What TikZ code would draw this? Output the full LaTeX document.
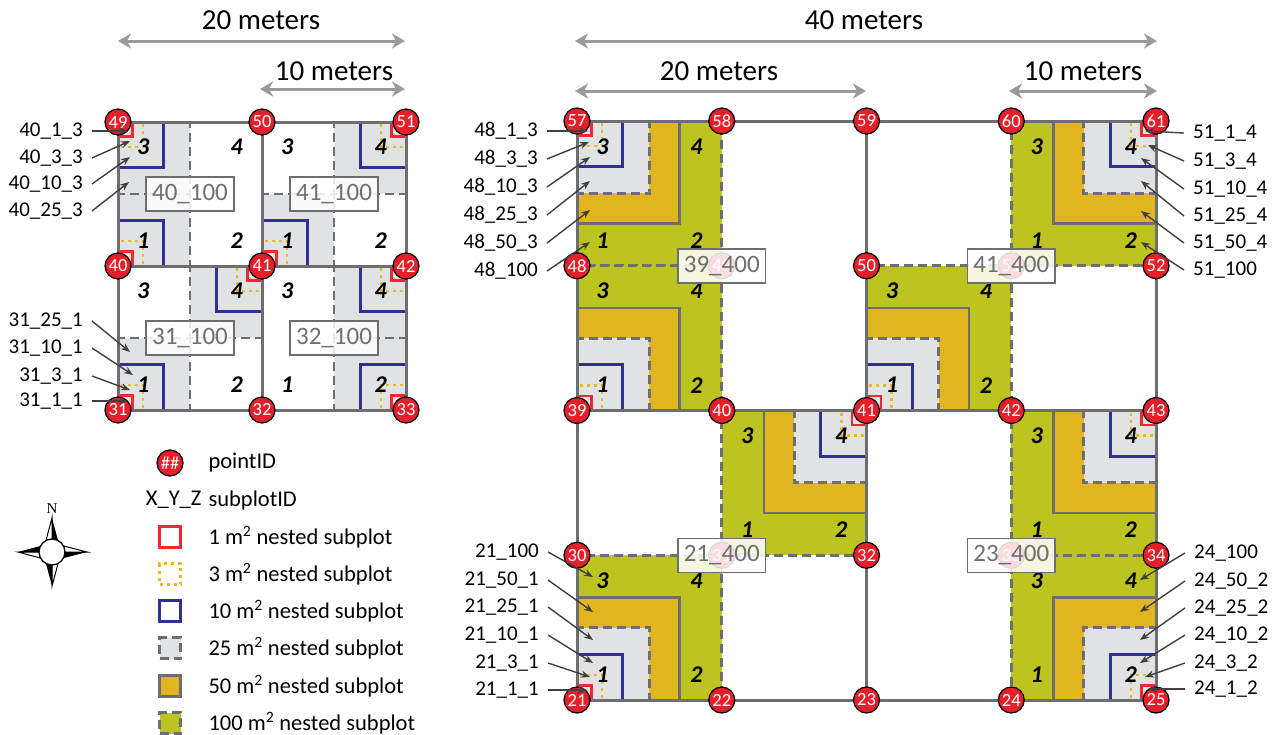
\documentclass[tikz,border=0pt]{standalone}
\usepackage{fontspec}
\setmainfont{Carlito}
\newfontfamily\serifN{Liberation Serif}
\usetikzlibrary{arrows.meta}
\definecolor{ptred}{HTML}{E5202A}
\definecolor{grn}{HTML}{BDC31F}
\definecolor{ylw}{HTML}{E1B520}
\definecolor{lgray}{HTML}{E1E2E4}
\definecolor{nblue}{HTML}{2E3192}
\definecolor{dotylw}{HTML}{EAB81E}
\definecolor{lgrid}{HTML}{6D6E71}
\definecolor{dimgray}{HTML}{9A9A9A}
\definecolor{idtext}{HTML}{6F6F6F}
\definecolor{sqred}{HTML}{EE2A30}
\newcommand\nestset[5]{%
  \ifnum#5=1\relax \draw[q50] (#1,#2) rectangle ++(#3*7.071,#4*7.071);\fi
  \draw[q25] (#1,#2) rectangle ++(#3*5,#4*5);
  \draw[q10] (#1,#2) rectangle ++(#3*3.162,#4*3.162);
  \draw[q3] (#1,#2) rectangle ++(#3*1.732,#4*1.732);
  \draw[q1] (#1,#2) rectangle ++(#3*1,#4*1);}
\newcommand\digset[3]{%
  \node[dig] (#1a) at (#2+1.75,#3+1.75) {1};
  \node[dig] (#1b) at (#2+8.25,#3+1.75) {2};
  \node[dig] (#1c) at (#2+1.75,#3+8.25) {3};
  \node[dig] (#1d) at (#2+8.25,#3+8.25) {4};}
\newcommand\calL[6]{\node[lab,anchor=east] (#1) at (#2,#3) {#6};
  \coordinate (#1t) at (#4,#5); \draw[pointer] (#1.east) -- (#1t);}
\newcommand\calR[6]{\node[lab,anchor=west] (#1) at (#2,#3) {#6};
  \coordinate (#1t) at (#4,#5); \draw[pointer] (#1.west) -- (#1t);}
\begin{document}
\begin{tikzpicture}[x=1pt,y=-1pt,
  gridline/.style={draw=lgrid, line width=3pt},
  q100/.style={fill=grn, draw=lgrid, line width=2.8pt, dash pattern=on 9pt off 5pt},
  q50/.style={fill=ylw, draw=lgrid, line width=2.6pt},
  q25/.style={fill=lgray, draw=lgrid, line width=2.8pt, dash pattern=on 9pt off 5pt},
  q10/.style={draw=nblue, line width=2.6pt},
  q3/.style={draw=dotylw, line width=2.6pt, dash pattern=on 3pt off 4pt},
  q1/.style={draw=sqred, line width=2.8pt},
  pt/.style={circle, fill=ptred, draw=black, line width=1.2pt, minimum size=26pt, inner sep=0pt, text=white, font=\fontsize{18.5}{18.5}\selectfont},
  idbox/.style={draw=lgrid, line width=1.5pt, fill=white, fill opacity=0.85, text opacity=1, text=idtext, font=\fontsize{25}{25}\selectfont, inner xsep=6pt, minimum height=34pt},
  dig/.style={font=\bfseries\itshape\fontsize{24}{24}\selectfont},
  lab/.style={font=\fontsize{21}{21}\selectfont, inner xsep=9pt, inner ysep=1pt},
  pointer/.style={draw=black!75, line width=1.4pt, -{Stealth[length=9pt,width=7pt]}},
  dim/.style={draw=dimgray, line width=3pt, {Stealth[length=13pt,width=15pt,inset=4pt]}-{Stealth[length=13pt,width=15pt,inset=4pt]}},
  dimtext/.style={font=\fontsize{29}{29}\selectfont},
  legtext/.style={font=\fontsize{22.5}{22.5}\selectfont},
  legsq/.style={minimum size=21pt, inner sep=0pt}]
\useasboundingbox (0,0) rectangle (1275,734);
% ---------- dimension arrows ----------
\coordinate (dA1) at (118,41); \coordinate (dA2) at (405,41);
\coordinate (dB1) at (260,89); \coordinate (dB2) at (405,89);
\coordinate (dC1) at (575,41); \coordinate (dC2) at (1157,41);
\coordinate (dD1) at (575,91); \coordinate (dD2) at (866,91);
\coordinate (dE1) at (1009,91); \coordinate (dE2) at (1157,91);
\draw[dim] (dA1) -- (dA2);
\draw[dim] (dB1) -- (dB2);
\draw[dim] (dC1) -- (dC2);
\draw[dim] (dD1) -- (dD2);
\draw[dim] (dE1) -- (dE2);
\node[dimtext] (tA) at (261,20) {20 meters};
\node[dimtext] (tB) at (334,71) {10 meters};
\node[dimtext] (tC) at (864,20) {40 meters};
\node[dimtext] (tD) at (719,71) {20 meters};
\node[dimtext] (tE) at (1083,71) {10 meters};
% ---------- left plot (20 m) ----------
\begin{scope}[shift={(118,410)}, x=14.4pt, y=14.4pt]
  \nestset{0}{20}{1}{-1}{0}
  \nestset{0}{10}{1}{1}{0}
  \nestset{20}{20}{-1}{-1}{0}
  \nestset{10}{10}{1}{1}{0}
  \nestset{10}{10}{-1}{-1}{0}
  \nestset{0}{0}{1}{1}{0}
  \nestset{20}{10}{-1}{-1}{0}
  \nestset{20}{0}{-1}{1}{0}
  \draw[gridline] (0,0) rectangle (20,20) (10,0) -- (10,20) (0,10) -- (20,10);
  \digset{lA}{0}{10}
  \digset{lB}{10}{10}
  \digset{lC}{0}{0}
  \digset{lD}{10}{0}
  \foreach \r/\b in {0/31,10/40,20/49} {
    \foreach \c in {0,1,2} {
      \pgfmathtruncatemacro\n{\b+\c}
      \node[pt] (l\n) at (\c*10,\r) {\n};
    }
  }
  \node[idbox] (s40) at (5,15) {40\_100};
  \node[idbox] (s41) at (15,15) {41\_100};
  \node[idbox] (s31) at (5,5) {31\_100};
  \node[idbox] (s32) at (15,5) {32\_100};
\end{scope}
% ---------- right plot (40 m) ----------
\begin{scope}[shift={(577,700)}, x=14.475pt, y=14.475pt]
  \draw[q100] (0,30) rectangle (10,40);
  \draw[q100] (0,20) rectangle (10,30);
  \draw[q100] (30,30) rectangle (40,40);
  \draw[q100] (20,20) rectangle (30,30);
  \draw[q100] (10,10) rectangle (20,20);
  \draw[q100] (0,0) rectangle (10,10);
  \draw[q100] (30,10) rectangle (40,20);
  \draw[q100] (30,0) rectangle (40,10);
  \nestset{0}{40}{1}{-1}{1}
  \nestset{0}{20}{1}{1}{1}
  \nestset{40}{40}{-1}{-1}{1}
  \nestset{20}{20}{1}{1}{1}
  \nestset{20}{20}{-1}{-1}{1}
  \nestset{0}{0}{1}{1}{1}
  \nestset{40}{20}{-1}{-1}{1}
  \nestset{40}{0}{-1}{1}{1}
  \draw[gridline] (0,0) rectangle (40,40) (20,0) -- (20,40) (0,20) -- (40,20);
  \digset{rA}{0}{30}
  \digset{rB}{0}{20}
  \digset{rC}{30}{30}
  \digset{rD}{20}{20}
  \digset{rE}{10}{10}
  \digset{rF}{0}{0}
  \digset{rG}{30}{10}
  \digset{rH}{30}{0}
  \foreach \r/\b in {0/21,10/30,20/39,30/48,40/57} {
    \foreach \c in {0,...,4} {
      \pgfmathtruncatemacro\n{\b+\c}
      \node[pt] (r\n) at (\c*10,\r) {\n};
    }
  }
  \node[idbox] (s39b) at (10,30) {39\_400};
  \node[idbox] (s41b) at (30,30) {41\_400};
  \node[idbox] (s21b) at (10,10) {21\_400};
  \node[idbox] (s23b) at (30,10) {23\_400};
\end{scope}
% ---------- call-outs ----------
\calL{a4013}{92}{131}{128}{131}{40\_1\_3}
\calL{a4033}{92}{158}{130}{141}{40\_3\_3}
\calL{a40103}{92}{184}{130}{157}{40\_10\_3}
\calL{a40253}{92}{211}{129}{182}{40\_25\_3}
\calL{a31251}{92}{321}{130}{352}{31\_25\_1}
\calL{a31101}{92}{348}{133}{375}{31\_10\_1}
\calL{a3131}{92}{376}{130}{390}{31\_3\_1}
\calL{a3111}{92}{401}{128}{401}{31\_1\_1}
\calL{b4813}{547}{131}{588}{131}{48\_1\_3}
\calL{b4833}{547}{159}{589}{142}{48\_3\_3}
\calL{b48103}{547}{187}{590}{157}{48\_10\_3}
\calL{b48253}{547}{215}{590}{181}{48\_25\_3}
\calL{b48503}{547}{243}{590}{210}{48\_50\_3}
\calL{b48100}{547}{271}{590}{242}{48\_100}
\calL{c21100}{548}{552}{593}{577}{21\_100}
\calL{c21501}{548}{580}{593}{612}{21\_50\_1}
\calL{c21251}{548}{607}{593}{640}{21\_25\_1}
\calL{c21101}{548}{635}{593}{663}{21\_10\_1}
\calL{c2131}{548}{663}{590}{677}{21\_3\_1}
\calL{c2111}{548}{690}{587}{690}{21\_1\_1}
\calR{d5114}{1184}{133}{1145}{131}{51\_1\_4}
\calR{d5134}{1184}{161}{1148}{145}{51\_3\_4}
\calR{d51104}{1184}{189}{1141}{158}{51\_10\_4}
\calR{d51254}{1184}{216}{1141}{181}{51\_25\_4}
\calR{d51504}{1184}{243}{1141}{211}{51\_50\_4}
\calR{d51100}{1184}{270}{1141}{242}{51\_100}
\calR{e24100}{1185}{553}{1140}{580}{24\_100}
\calR{e24502}{1185}{581}{1140}{612}{24\_50\_2}
\calR{e24252}{1185}{608}{1140}{640}{24\_25\_2}
\calR{e24102}{1185}{635}{1140}{663}{24\_10\_2}
\calR{e2432}{1185}{663}{1145}{677}{24\_3\_2}
\calR{e2412}{1185}{689}{1148}{689}{24\_1\_2}
% ---------- legend ----------
\node[pt] (lgpt) at (170,463) {\#\#};
\node[legtext, anchor=west] (lgptT) at (205,463) {pointID};
\node[legtext, anchor=east] (lgxyz) at (205,500) {X\_Y\_Z};
\node[legtext, anchor=west] (lgsub) at (205,500) {subplotID};
\node[legsq, q1, fill=white] (lg1) at (170,537) {};
\node[legsq, q3, fill=white] (lg3) at (170,574) {};
\node[legsq, q10, fill=white] (lg10) at (170,611) {};
\node[legsq, q25] (lg25) at (170,648) {};
\node[legsq, q50] (lg50) at (170,686) {};
\node[legsq, q100] (lg100) at (170,723) {};
\node[legtext, anchor=west] (lg1T) at (205,537) {1 m\textsuperscript{2} nested subplot};
\node[legtext, anchor=west] (lg3T) at (205,574) {3 m\textsuperscript{2} nested subplot};
\node[legtext, anchor=west] (lg10T) at (205,611) {10 m\textsuperscript{2} nested subplot};
\node[legtext, anchor=west] (lg25T) at (205,648) {25 m\textsuperscript{2} nested subplot};
\node[legtext, anchor=west] (lg50T) at (205,686) {50 m\textsuperscript{2} nested subplot};
\node[legtext, anchor=west] (lg100T) at (205,723) {100 m\textsuperscript{2} nested subplot};
% ---------- compass ----------
\begin{scope}[shift={(52,552)}]
  \draw[fill=white, line width=1pt, line join=miter] (0,0) -- (-7,-8) -- (0,-34) -- cycle;
  \fill[black] (0,0) -- (7,-8) -- (0,-34) -- cycle;
  \draw[fill=white, line width=1pt] (0,0) -- (8,-7) -- (35,0) -- cycle;
  \fill[black] (0,0) -- (8,7) -- (35,0) -- cycle;
  \draw[fill=white, line width=1pt] (0,0) -- (7,8) -- (0,34) -- cycle;
  \fill[black] (0,0) -- (-7,8) -- (0,34) -- cycle;
  \draw[fill=white, line width=1pt] (0,0) -- (-8,7) -- (-34,0) -- cycle;
  \fill[black] (0,0) -- (-8,-7) -- (-34,0) -- cycle;
  \draw[fill=white, line width=1.3pt] (0,0) circle (13);
  \node[font=\serifN\fontsize{15}{15}\selectfont, inner sep=0pt] (compN) at (0,-43) {N};
\end{scope}
\end{tikzpicture}
\end{document}
